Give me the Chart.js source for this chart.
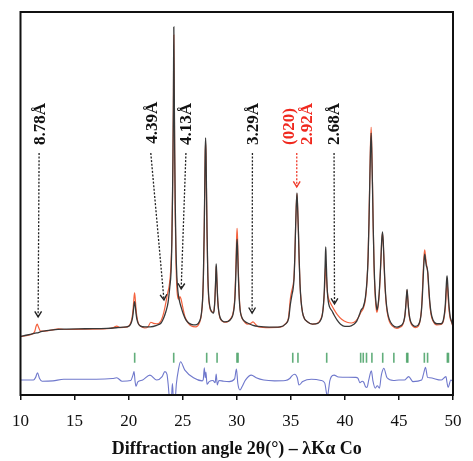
<!DOCTYPE html>
<html>
<head>
<meta charset="utf-8">
<script src="https://cdn.jsdelivr.net/npm/chart.js@4/dist/chart.umd.min.js"></script>
<style>
html,body{margin:0;padding:0;background:#fff;}
canvas{display:block;}
</style>
</head>
<body>
<canvas id="c" width="473" height="461"></canvas>
<script>
// ---- data (2θ in degrees, intensity in arbitrary units) ----
const xTicks = [10, 15, 20, 25, 30, 35, 40, 45, 50];

const observed = [
[10.0,15.3],[10.5,15.6],[11.0,15.9],[11.5,16.2],[12.0,16.6],[13.0,17.0],[14.0,17.2],[16.0,17.3],[18.0,17.4],[19.0,17.6],[19.8,17.8],
[20.05,18.0],[20.2,18.6],[20.32,19.6],[20.41,21.2],[20.48,23.1],[20.55,24.4],[20.62,23.1],[20.69,21.2],[20.78,19.6],[20.9,18.6],[21.1,18.0],[21.5,17.8],[22.0,17.8],[22.6,18.2],
[23.0,18.8],[23.25,20.2],[23.45,21.8],[23.65,24.2],[23.8,28],[23.92,32],[24.0,40],[24.06,52],[24.1,62],[24.14,76],[24.18,96.1],[24.22,80],[24.26,64],[24.31,50],[24.38,38],[24.46,31],[24.56,27],[24.7,24.6],[24.85,23],[25.05,21.2],[25.3,19.6],[25.6,18.7],[26.0,18.3],[26.3,18.4],
[26.57,19.3],[26.72,21.0],[26.84,24.9],[26.92,31.7],[26.99,42.9],[27.04,54.0],[27.08,63.2],[27.12,67.1],[27.16,63.2],[27.2,54.0],[27.25,43],[27.32,32],[27.4,26],[27.52,23],[27.67,21.8],[27.85,21.4],
[27.92,22.5],[27.98,25],[28.03,28.5],[28.07,32],[28.1,34.2],[28.14,32],[28.19,28],[28.25,24.5],[28.33,22],[28.45,20.3],[28.65,19.4],[28.9,19.1],[29.2,19.2],
[29.5,20.0],[29.65,21],[29.76,22.8],[29.83,25.2],[29.9,30],[29.95,34.8],[29.99,38.8],[30.03,40.7],[30.07,38.8],[30.11,34.8],[30.16,30],[30.23,25.2],[30.31,22.2],[30.43,20.6],[30.6,19.6],[30.8,19.1],[31.0,18.8],[31.5,18.2],[32.0,17.9],[33.0,17.7],[34.0,17.8],[34.5,18.5],
[34.8,20.0],[34.95,23.5],[35.1,26.1],[35.2,27.5],[35.3,30.5],[35.37,36],[35.44,43.5],[35.5,49],[35.57,52.8],[35.63,49],[35.7,43],[35.77,35.5],[35.85,29],[35.95,24.5],[36.08,21.6],[36.25,20],[36.5,19.2],[37.0,18.5],[37.5,18.7],
[37.8,19.8],[37.92,21],[38.02,23.5],[38.1,27.5],[38.15,31.5],[38.19,35.5],[38.23,38.7],[38.27,35.5],[38.32,31],[38.38,27],[38.46,24.5],[38.58,23],[38.8,22],[39.0,20.9],[39.3,19.5],[39.6,18.5],[40.0,17.9],[40.4,17.9],[40.8,18.4],[41.1,19.3],[41.35,21],[41.5,22.2],[41.7,23],
[41.9,25.5],[42.05,30],[42.15,36],[42.23,45],[42.3,55],[42.36,63],[42.43,68.4],[42.49,63],[42.55,55],[42.62,44],[42.7,34],[42.8,27],[42.9,23.5],[42.97,22.2],
[43.07,23.5],[43.17,26.5],[43.26,31],[43.34,36],[43.41,40.5],[43.48,42.6],[43.55,40],[43.62,35],[43.7,29.5],[43.8,25],[43.92,22],[44.1,19.8],[44.4,18.3],[44.8,17.7],
[45.1,18.0],[45.3,18.4],[45.45,19.3],[45.56,21],[45.63,23.2],[45.7,26],[45.75,27.6],[45.8,26],[45.87,23.2],[45.95,21],[46.07,19.3],[46.3,18.2],[46.5,17.9],
[46.8,18.3],[46.97,19.6],[47.08,22],[47.17,26],[47.25,31],[47.32,35],[47.38,36.8],[47.45,35.5],[47.53,33.8],[47.6,33.2],[47.67,32],[47.75,28.5],[47.85,24.5],[47.97,21.5],[48.15,19.6],[48.5,18.6],
[48.9,18.6],[49.1,19.5],[49.22,21.5],[49.3,24],[49.36,27.5],[49.41,30],[49.45,31.1],[49.5,29.5],[49.56,26.5],[49.64,23],[49.74,20.5],[49.87,19.2],[50.0,18.0]
];

const calculated = [
[10.0,15.2],[10.5,15.5],[11.0,15.8],[11.3,16.5],[11.45,18.0],[11.55,18.5],[11.65,17.8],[11.85,16.7],[12.2,16.7],[13.0,17.0],[13.5,17.3],[14.0,17.1],[16.0,17.2],[18.0,17.3],[18.6,17.6],[18.9,18.0],[19.2,17.6],[19.8,17.7],
[20.05,18.1],[20.2,18.9],[20.32,20.2],[20.41,22.3],[20.48,24.9],[20.55,26.7],[20.62,24.9],[20.69,22.3],[20.78,20.2],[20.9,18.7],[21.1,18.0],[21.5,17.5],[21.8,17.8],[22.05,19.0],[22.3,18.7],[22.6,18.6],
[23.0,19.4],[23.25,21.5],[23.45,24.2],[23.6,26.5],[23.75,28.5],[23.9,33],[24.0,41],[24.06,52],[24.1,62],[24.14,75],[24.18,94],[24.22,79],[24.26,62],[24.31,47],[24.38,35],[24.46,28],[24.56,25.3],[24.65,25.0],[24.75,25.7],[24.85,25.0],[25.0,23],[25.2,20.5],[25.5,18.8],[25.8,18.0],[26.2,17.8],
[26.57,19.0],[26.72,20.8],[26.84,24.6],[26.92,31.3],[26.99,42.4],[27.04,53.3],[27.08,62.3],[27.12,66],[27.16,62.3],[27.2,53.3],[27.25,42.5],[27.32,31.5],[27.4,25.5],[27.52,22.6],[27.67,21.8],[27.85,21.6],
[27.92,22.6],[27.98,25],[28.03,28.3],[28.07,31.5],[28.1,33.5],[28.14,31.5],[28.19,27.8],[28.25,24.3],[28.33,21.8],[28.45,20.1],[28.65,19.3],[28.9,19.0],[29.2,19.2],
[29.5,20.2],[29.65,21.3],[29.76,23.3],[29.83,26],[29.9,31.5],[29.95,36.8],[29.99,41.3],[30.03,43.5],[30.07,41.3],[30.11,36.8],[30.16,31.5],[30.23,26],[30.31,22.5],[30.43,20.5],[30.6,19.5],[30.8,18.8],[31.0,18.5],[31.3,18.7],[31.5,19.1],[31.75,18.4],[32.0,17.8],[33.0,17.6],[34.0,17.7],[34.5,18.6],
[34.8,20.5],[34.95,25],[35.1,27.4],[35.2,28.5],[35.3,31],[35.37,36],[35.44,43.5],[35.5,49],[35.57,52.5],[35.63,49],[35.7,43],[35.77,35.5],[35.85,29],[35.95,24.5],[36.08,21.6],[36.25,20],[36.5,19.2],[37.0,18.5],[37.5,18.8],
[37.8,20],[37.92,21.2],[38.02,23.5],[38.1,26.5],[38.15,29.5],[38.19,32.3],[38.23,33.9],[38.27,32.3],[38.32,29.5],[38.38,27],[38.46,25.5],[38.58,24.5],[38.8,23.3],[39.0,22.3],[39.3,21],[39.7,19.8],[40.2,19.0],[40.6,18.8],[41.0,19.3],[41.3,20.5],[41.5,21.7],[41.7,22.6],
[41.9,25],[42.05,30],[42.15,36.5],[42.23,46],[42.3,56],[42.36,64.5],[42.43,69.9],[42.49,64.5],[42.55,56],[42.62,44],[42.7,33.5],[42.8,26],[42.9,22.5],[42.97,21.6],
[43.07,23],[43.17,26],[43.26,30.5],[43.34,35.5],[43.41,40.2],[43.48,42.3],[43.55,39.7],[43.62,34.5],[43.7,29],[43.8,24.5],[43.92,21.5],[44.1,19.3],[44.4,18.0],[44.8,17.4],
[45.1,17.7],[45.3,18.1],[45.45,19.1],[45.56,20.8],[45.63,23],[45.7,25.8],[45.75,27.3],[45.8,25.8],[45.87,23],[45.95,20.6],[46.07,19],[46.3,17.9],[46.5,17.6],
[46.8,18.0],[46.97,19.6],[47.08,22.3],[47.17,27],[47.25,32.5],[47.32,36.3],[47.38,37.9],[47.45,36.5],[47.53,34.5],[47.6,33.3],[47.67,31.5],[47.75,27.8],[47.85,23.8],[47.97,21],[48.15,19.3],[48.5,18.3],
[48.9,18.4],[49.1,19.2],[49.22,21],[49.3,23],[49.36,26],[49.41,28.3],[49.45,29.2],[49.5,27.8],[49.56,25],[49.64,22],[49.74,20],[49.87,19],[50.0,17.8]
];

const difference = [
[10.0,3.9],[11.2,3.9],[11.4,4.6],[11.57,5.8],[11.75,4.4],[12.0,3.6],[13.0,3.7],[14.0,4.1],[17.0,4.1],[18.5,4.3],[18.9,4.5],[19.4,3.6],[20.2,3.8],
[20.4,5.2],[20.5,6.1],[20.6,3.5],[20.68,2.3],[20.85,3.4],[21.3,3.9],[21.97,5.2],[22.6,3.9],[23.1,4.8],[23.35,6.1],[23.55,5.4],[23.65,3],[23.8,-1],[23.95,-1],[24.05,3.0],[24.15,-1],[24.3,-1],[24.42,3],
[24.6,6.5],[24.8,8.7],[25.2,6.5],[26.0,4.5],[26.8,3.7],[26.9,4.0],[27.0,7.1],[27.08,4.5],[27.15,6.0],[27.25,2.8],[27.45,3.5],[27.8,3.8],[28.0,3.2],[28.1,5.5],[28.2,2.6],[28.35,3.8],[28.8,3.6],[29.3,3.5],[29.8,4.2],[29.97,6.8],[30.1,3.0],[30.3,1.3],[30.5,2.2],[30.8,3.9],[31.35,5.2],[31.8,4.5],[32.5,3.9],[33.5,3.7],[34.5,3.8],[34.9,4.3],
[35.1,5.0],[35.35,5.4],[35.6,4.5],[35.75,2.6],[36.1,3.5],[36.9,4.1],[37.8,3.8],[38.14,3.1],[38.3,0.5],[38.38,-0.4],[38.5,1.5],[38.6,3.6],[38.75,4.8],[39.0,5.2],[39.4,4.7],[41.0,4.6],[41.2,4.4],[41.4,3.2],[41.6,3.6],[41.75,3.3],[41.9,2.2],[42.05,2.0],[42.2,3.8],[42.45,6.3],[42.6,3.6],[42.8,1.8],[43.0,2.4],[43.2,1.8],[43.35,4.8],[43.45,6.1],[43.6,7.0],[43.9,4.5],[44.5,3.8],[45.0,3.9],[45.5,3.9],[45.9,4.8],[46.3,3.5],[47.1,3.9],[47.3,5.8],[47.45,7.2],[47.65,4.6],[47.85,4.5],[48.9,3.9],[49.35,4.8],[49.45,3.2],[49.55,2.0],[49.8,3.9],[50.0,3.5]
];

const braggPositions = [20.56, 24.17, 27.22, 28.18, 30.02, 30.12, 35.18, 35.66, 38.32, 41.46, 41.70, 42.0, 42.5, 43.5, 44.53, 45.72, 45.82, 47.35, 47.65, 49.48, 49.58];
const braggLevel = 9.7;

// annotation labels (text, label x, label base y, colour) and arrows (start, tip, colour)
const annLabels = ['8.78Å', '4.39Å', '4.13Å', '3.29Å', '(020)', '2.92Å', '2.68Å'];
const annLabelX = [11.78, 22.15, 25.26, 31.47, 34.8, 36.5, 38.98];
const annLabelY = [65.3, 65.6, 65.3, 65.3, 65.3, 65.3, 65.3];
const annRed    = [false, false, false, false, true, true, false];
const arrowFrom = [[11.72,63.2],[22.05,63.2],[25.3,63.2],[31.45,63.2],[35.55,63.2],[39.0,63.2]];
const arrowTo   = [[11.63,20.4],[23.27,24.8],[24.86,27.7],[31.42,21.4],[35.55,54.3],[39.04,23.8]];
const arrowRed  = [false, false, false, false, true, false];

const toXY = a => a.map(p => ({x: p[0], y: p[1]}));

const framePlugin = {
  id: 'frame',
  afterDraw(chart) {
    const {ctx, chartArea: a} = chart;
    ctx.save();
    ctx.strokeStyle = '#111';
    ctx.lineWidth = 2;
    ctx.strokeRect(a.left, a.top, a.right - a.left, a.bottom - a.top);
    ctx.restore();
  }
};

const annotationPlugin = {
  id: 'xrdAnnotations',
  afterDraw(chart) {
    const {ctx} = chart;
    const xs = chart.scales.x, ys = chart.scales.y;
    ctx.save();
    for (let i = 0; i < arrowFrom.length; i++) {
      const x0 = xs.getPixelForValue(arrowFrom[i][0]), y0 = ys.getPixelForValue(arrowFrom[i][1]);
      const x1 = xs.getPixelForValue(arrowTo[i][0]), y1 = ys.getPixelForValue(arrowTo[i][1]);
      const col = arrowRed[i] ? '#f03a2a' : '#222';
      ctx.strokeStyle = col;
      ctx.lineWidth = 1.3;
      ctx.setLineDash([2, 1.6]);
      ctx.beginPath(); ctx.moveTo(x0, y0); ctx.lineTo(x1, y1); ctx.stroke();
      ctx.setLineDash([]);
      const ang = Math.atan2(y1 - y0, x1 - x0);
      const L = 6.5, w = 0.55;
      ctx.lineWidth = 1.4;
      ctx.beginPath();
      ctx.moveTo(x1 - L * Math.cos(ang - w), y1 - L * Math.sin(ang - w));
      ctx.lineTo(x1, y1);
      ctx.lineTo(x1 - L * Math.cos(ang + w), y1 - L * Math.sin(ang + w));
      ctx.stroke();
    }
    ctx.font = 'bold 17px "Liberation Serif", "Times New Roman", serif';
    ctx.textAlign = 'left';
    ctx.textBaseline = 'middle';
    for (let i = 0; i < annLabels.length; i++) {
      const px = xs.getPixelForValue(annLabelX[i]);
      const py = ys.getPixelForValue(annLabelY[i]);
      ctx.save();
      ctx.translate(px, py);
      ctx.rotate(-Math.PI / 2);
      ctx.fillStyle = annRed[i] ? '#f0281e' : '#111';
      ctx.fillText(annLabels[i], 0, 1);
      ctx.restore();
    }
    ctx.restore();
  }
};

new Chart(document.getElementById('c'), {
  type: 'scatter',
  data: {
    datasets: [
      {label: 'Observed', data: toXY(observed), showLine: true, borderColor: '#383838', borderWidth: 1.3, pointRadius: 0, cubicInterpolationMode: 'monotone', order: 0},
      {label: 'Calculated', data: toXY(calculated), showLine: true, borderColor: '#f4623e', borderWidth: 1.2, pointRadius: 0, cubicInterpolationMode: 'monotone', order: 1},
      {label: 'Difference', data: toXY(difference), showLine: true, borderColor: '#6f78cc', borderWidth: 1.1, pointRadius: 0, cubicInterpolationMode: 'monotone', order: 2},
      {label: 'Bragg', data: braggPositions.map(v => ({x: v, y: braggLevel})), showLine: false, pointStyle: 'line', rotation: 90, pointRadius: 5, borderColor: 'rgba(70,160,100,0.85)', borderWidth: 1.6, order: 3}
    ]
  },
  options: {
    responsive: false,
    animation: false,
    devicePixelRatio: 1,
    layout: {padding: {left: 20.5, right: 10.5, top: 12, bottom: 0}},
    plugins: {legend: {display: false}, tooltip: {enabled: false}},
    scales: {
      x: {
        type: 'linear', min: 10, max: 50,
        afterBuildTicks: s => { s.ticks = xTicks.map(v => ({value: v})); },
        grid: {drawOnChartArea: false, drawTicks: true, tickLength: 5, color: '#111', lineWidth: 1.5},
        border: {display: true, color: '#111', width: 2},
        ticks: {color: '#111', padding: 11.5, font: {family: '"Liberation Serif", "Times New Roman", serif', size: 17}, maxRotation: 0},
        title: {display: true, text: 'Diffraction angle 2θ(°) – λKα Co', color: '#111',
                font: {family: '"Liberation Serif", "Times New Roman", serif', size: 18, weight: 'bold'},
                padding: {top: -5, bottom: 1}}
      },
      y: {type: 'linear', min: 0, max: 100, display: false}
    }
  },
  plugins: [framePlugin, annotationPlugin]
});
</script>
</body>
</html>
